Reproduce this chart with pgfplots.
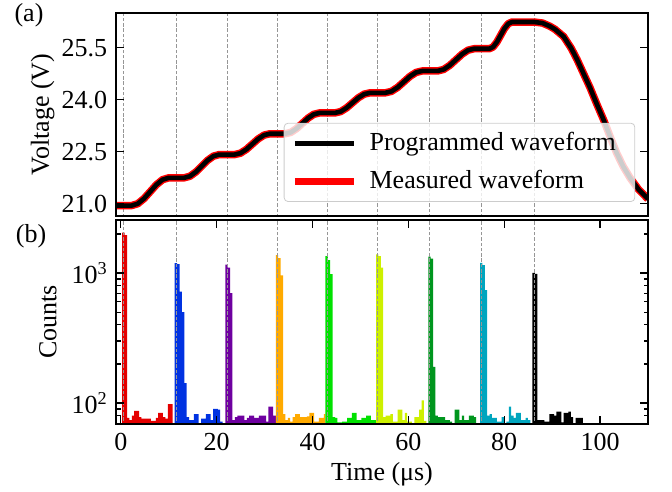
\documentclass[border=0pt]{standalone}
\usepackage{fontspec}
\setmainfont{Liberation Serif}
\usepackage{pgfplots}
\usepackage{pgfplotstable}
\pgfplotsset{compat=1.18}

\definecolor{cRed}{RGB}{228,0,0}
\definecolor{cBlue}{RGB}{0,50,225}
\definecolor{cPurple}{RGB}{110,0,160}
\definecolor{cOrange}{RGB}{255,170,0}
\definecolor{cGreen}{RGB}{0,225,0}
\definecolor{cYellow}{RGB}{205,240,0}
\definecolor{cDkGreen}{RGB}{0,150,30}
\definecolor{cTeal}{RGB}{0,165,190}
\definecolor{gridgray}{RGB}{150,150,150}

% waveform (time in us, voltage in V)
\pgfplotstableread{
t v
-1 20.95
0.65 20.95
2.25 20.95
3.54 21.004
4.83 21.15
6.13 21.35
7.42 21.55
8.71 21.696
10.0 21.75
11.6 21.75
13.2 21.75
14.43 21.795
15.65 21.918
16.88 22.085
18.1 22.253
19.33 22.375
20.55 22.42
22.15 22.42
23.75 22.42
24.98 22.46
26.2 22.57
27.43 22.72
28.65 22.87
29.88 22.98
31.1 23.02
32.7 23.02
34.3 23.02
35.49 23.06
36.68 23.17
37.88 23.32
39.07 23.47
40.26 23.58
41.45 23.62
43.05 23.62
44.65 23.62
45.88 23.659
47.1 23.765
48.33 23.91
49.55 24.055
50.78 24.161
52.0 24.2
53.6 24.2
55.2 24.2
56.48 24.242
57.77 24.358
59.05 24.515
60.33 24.673
61.62 24.788
62.9 24.83
64.5 24.83
66.1 24.83
67.37 24.873
68.63 24.99
69.9 25.15
71.17 25.31
72.43 25.427
73.7 25.47
75.3 25.47
76.9 25.47
77.68 25.522
78.47 25.663
79.25 25.855
80.03 26.048
80.82 26.188
81.6 26.24
86.25 26.24
88.0 26.21
89.5 26.12
90.6 26.03
92.4 25.82
94.0 25.48
95.2 25.16
96.5 24.77
97.9 24.35
99.3 23.88
100.8 23.4
102.2 22.9
103.5 22.45
104.9 22.06
106.3 21.74
108.0 21.42
110.0 21.14
}\wavetab

\pgfplotsset{
  panel/.style={
    scale only axis, width=532pt,
    xmin=-1, xmax=110,
    tick align=inside,
    axis line style={line width=1.3pt},
    every tick/.style={black, line width=1.2pt},
    major tick length=8pt, minor tick length=4.5pt,
    /pgf/number format/assume math mode=true,
    axis on top,
  },
  sepline/.style={gridgray, line width=0.9pt, dash pattern=on 3.5pt off 1.8pt, forget plot},
  hist/.style={ybar interval, fill=#1, draw=none, forget plot},
}

\begin{document}
\fontsize{26}{31}\selectfont
\begin{tikzpicture}
\path[use as bounding box] (0pt,0pt) rectangle (672pt,492pt);

% (a) programmed vs measured waveform
\begin{axis}[panel,
  at={(116pt,276pt)}, anchor=south west, height=203pt,
  ymin=20.65, ymax=26.5,
  xtick=\empty,
  ytick={21,22.5,24,25.5}, ytick pos=both,
  yticklabel style={/pgf/number format/.cd, fixed, fixed zerofill, precision=1},
  ylabel={Voltage (V)},
  ylabel style={at={(axis description cs:-0.138,0.5)}, anchor=center},
  reverse legend, legend cell align=left,
  legend image code/.code={\draw[#1] (0pt,0pt) -- (59pt,0pt);},
  legend style={at={(0.976,0.069)}, anchor=south east,
    draw=black!20, line width=0.8pt, rounded corners=4pt,
    fill=white, fill opacity=0.8, text opacity=1,
    inner xsep=7pt, inner ysep=6pt, row sep=10pt,
    nodes={inner xsep=12pt, inner ysep=3pt}},
]
\pgfplotsinvokeforeach{0.65,11.6,22.15,32.7,43.05,53.6,64.5,75.3,86.25}{
  \addplot[sepline] coordinates {(#1,20) (#1,27)};
}
\addplot[red, line width=7.5pt, line join=round] table[x=t, y=v] {\wavetab};
\addlegendentry{Measured waveform}
\addplot[black, line width=4.6pt, line join=round] table[x=t, y=v] {\wavetab};
\addlegendentry{Programmed waveform}
\end{axis}

% (b) arrival-time histograms
\begin{axis}[panel,
  at={(116pt,68pt)}, anchor=south west, height=204pt,
  ymode=log, ymin=69, ymax=2560,
  xtick={0,20,40,60,80,100}, xtick pos=both,
  ytick={100,1000}, yticklabels={10\textsuperscript{2},10\textsuperscript{3}},
  minor ytick={70,80,90,200,300,400,500,600,700,800,900,2000},
  ytick pos=both,
  xlabel={Time (μs)},
  xlabel style={at={(axis description cs:0.5,-0.245)}, anchor=center, inner sep=0pt},
  ylabel={Counts},
  ylabel style={at={(axis description cs:-0.128,0.5)}, anchor=center},
]
\addplot[hist=cRed] coordinates {(0.3,2050) (0.8,1960) (1.3,77) (1.8,74) (2.3,80) (2.8,87) (3.3,87) (3.8,78) (4.3,76) (4.8,76) (5.3,76) (5.8,76) (6.3,73) (6.8,73) (7.3,77) (7.8,84) (8.3,84) (8.8,78) (9.3,76) (9.8,98) (10.3,98) (10.8,60) (11.25,60)};
\addplot[hist=cBlue] coordinates {(11.25,1190) (11.75,1170) (12.25,720) (12.75,500) (13.25,142) (13.75,78) (14.25,74) (14.75,74) (15.25,82) (15.75,82) (16.25,60) (16.75,76) (17.25,76) (17.75,82) (18.25,82) (18.75,74) (19.25,90) (19.75,90) (20.25,89) (20.75,72) (21.25,60) (21.8,60)};
\addplot[hist=cPurple] coordinates {(21.8,1160) (22.3,1100) (22.8,700) (23.3,74) (23.8,78) (24.3,80) (24.8,80) (25.3,80) (25.8,74) (26.3,77) (26.8,80) (27.3,80) (27.8,77) (28.3,77) (28.8,80) (29.3,80) (29.8,80) (30.3,72) (30.8,94) (31.3,94) (31.8,80) (32.35,80)};
\addplot[hist=cOrange] coordinates {(32.35,1375) (32.85,1300) (33.35,960) (33.85,82) (34.35,74) (34.85,77) (35.35,72) (35.85,78) (36.35,82) (36.85,82) (37.35,78) (37.85,78) (38.35,78) (38.85,79) (39.35,84) (39.85,84) (40.35,72) (40.85,72) (41.35,77) (41.85,77) (42.35,82) (42.7,82)};
\addplot[hist=cGreen] coordinates {(42.7,1350) (43.2,1260) (43.7,980) (44.2,78) (44.7,77) (45.2,71) (45.7,71) (46.2,72) (46.7,72) (47.2,77) (47.7,77) (48.2,84) (48.7,84) (49.2,74) (49.7,74) (50.2,77) (50.7,77) (51.2,80) (51.7,80) (52.2,74) (52.7,74) (53.25,74)};
\addplot[hist=cYellow] coordinates {(53.25,1390) (53.75,1350) (54.25,1100) (54.75,78) (55.25,80) (55.75,80) (56.25,82) (56.75,72) (57.25,72) (57.75,89) (58.25,89) (58.75,74) (59.25,84) (59.75,72) (60.25,72) (60.75,60) (61.25,78) (61.75,78) (62.25,89) (62.75,105) (63.25,73) (63.75,60) (64.15,60)};
\addplot[hist=cDkGreen] coordinates {(64.15,1340) (64.65,1290) (65.15,190) (65.65,80) (66.15,78) (66.65,78) (67.15,78) (67.65,74) (68.15,74) (68.65,72) (69.15,60) (69.65,89) (70.15,89) (70.65,74) (71.15,80) (71.65,74) (72.15,74) (72.65,80) (73.15,80) (73.65,78) (74.15,60) (74.95,60)};
\addplot[hist=cTeal] coordinates {(74.95,1200) (75.45,1150) (75.95,740) (76.45,80) (76.95,82) (77.45,77) (77.95,77) (78.45,72) (78.95,72) (79.45,78) (79.95,70) (80.45,72) (80.95,94) (81.45,80) (81.95,77) (82.45,84) (82.95,84) (83.45,74) (83.95,74) (84.45,77) (84.95,74) (85.45,60) (85.9,60)};
\addplot[hist=black] coordinates {(85.9,1004) (86.4,985) (86.9,74) (87.4,74) (87.9,74) (88.4,72) (88.9,72) (89.4,82) (89.9,82) (90.4,80) (90.9,86) (91.4,86) (91.9,71) (92.4,84) (92.9,84) (93.4,86) (93.9,78) (94.4,70) (94.9,77) (95.4,77) (95.9,77) (96.4,77)};
\pgfplotsinvokeforeach{0.65,11.6,22.15,32.7,43.05,53.6,64.5,75.3,86.25}{
  \addplot[sepline] coordinates {(#1,50) (#1,3000)};
}
\end{axis}

\node at (29pt,476.5pt) {(a)};
\node at (31pt,256pt) {(b)};
\end{tikzpicture}
\end{document}
